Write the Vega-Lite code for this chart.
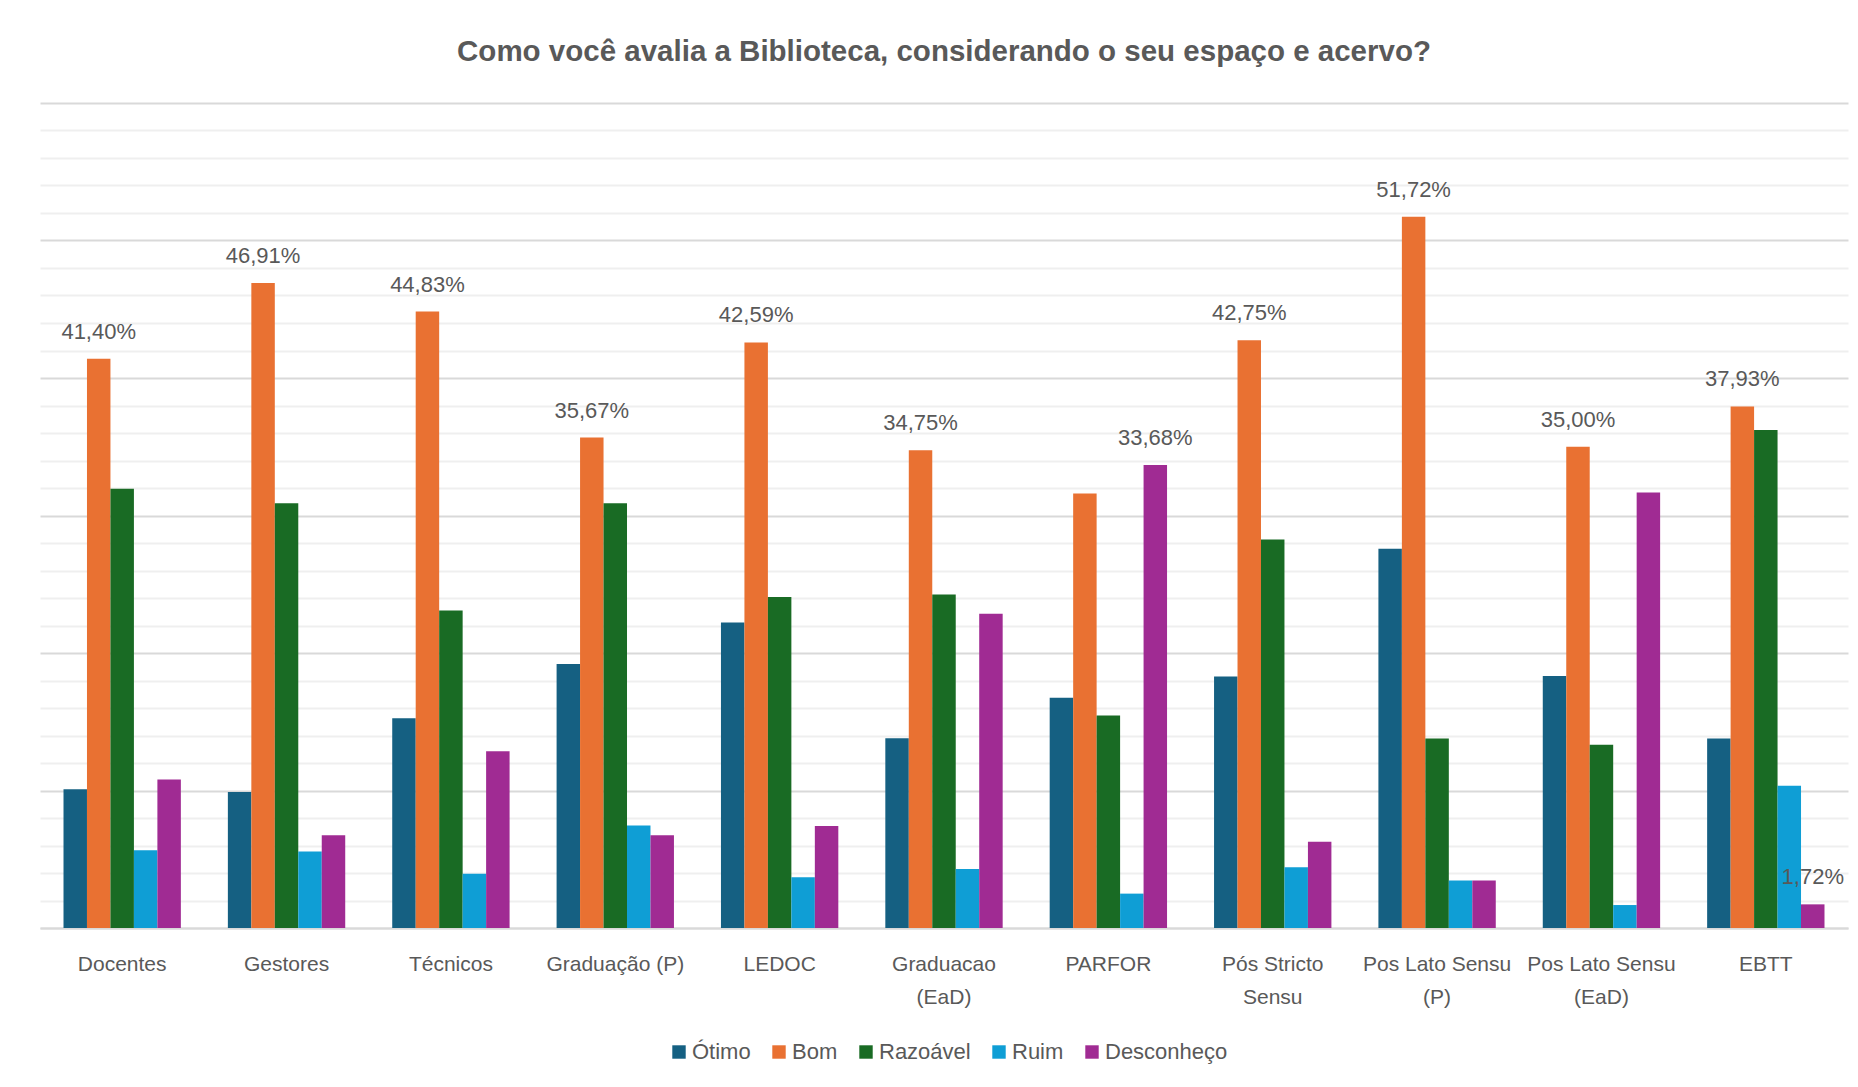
{
  "$schema": "https://vega.github.io/schema/vega-lite/v6.json",
  "width": 1808,
  "height": 825,
  "autosize": {"type": "none"},
  "padding": {"left": 40, "top": 103, "right": 10, "bottom": 159},
  "background": "white",
  "title": {
    "text": "Como você avalia a Biblioteca, considerando o seu espaço e acervo?",
    "font": "Liberation Sans",
    "fontSize": 29.5,
    "fontWeight": "bold",
    "color": "#595959",
    "anchor": "middle",
    "offset": 36
  },
  "data": {
    "values": [
      {"grupo": "Docentes", "avaliacao": "Ótimo", "valor": 10.1, "rotulo": ""},
      {"grupo": "Docentes", "avaliacao": "Bom", "valor": 41.40, "rotulo": "41,40%"},
      {"grupo": "Docentes", "avaliacao": "Razoável", "valor": 31.95, "rotulo": ""},
      {"grupo": "Docentes", "avaliacao": "Ruim", "valor": 5.65, "rotulo": ""},
      {"grupo": "Docentes", "avaliacao": "Desconheço", "valor": 10.8, "rotulo": ""},
      {"grupo": "Gestores", "avaliacao": "Ótimo", "valor": 9.9, "rotulo": ""},
      {"grupo": "Gestores", "avaliacao": "Bom", "valor": 46.91, "rotulo": "46,91%"},
      {"grupo": "Gestores", "avaliacao": "Razoável", "valor": 30.9, "rotulo": ""},
      {"grupo": "Gestores", "avaliacao": "Ruim", "valor": 5.56, "rotulo": ""},
      {"grupo": "Gestores", "avaliacao": "Desconheço", "valor": 6.75, "rotulo": ""},
      {"grupo": "Técnicos", "avaliacao": "Ótimo", "valor": 15.25, "rotulo": ""},
      {"grupo": "Técnicos", "avaliacao": "Bom", "valor": 44.83, "rotulo": "44,83%"},
      {"grupo": "Técnicos", "avaliacao": "Razoável", "valor": 23.1, "rotulo": ""},
      {"grupo": "Técnicos", "avaliacao": "Ruim", "valor": 3.95, "rotulo": ""},
      {"grupo": "Técnicos", "avaliacao": "Desconheço", "valor": 12.85, "rotulo": ""},
      {"grupo": "Graduação (P)", "avaliacao": "Ótimo", "valor": 19.2, "rotulo": ""},
      {"grupo": "Graduação (P)", "avaliacao": "Bom", "valor": 35.67, "rotulo": "35,67%"},
      {"grupo": "Graduação (P)", "avaliacao": "Razoável", "valor": 30.9, "rotulo": ""},
      {"grupo": "Graduação (P)", "avaliacao": "Ruim", "valor": 7.45, "rotulo": ""},
      {"grupo": "Graduação (P)", "avaliacao": "Desconheço", "valor": 6.75, "rotulo": ""},
      {"grupo": "LEDOC", "avaliacao": "Ótimo", "valor": 22.22, "rotulo": ""},
      {"grupo": "LEDOC", "avaliacao": "Bom", "valor": 42.59, "rotulo": "42,59%"},
      {"grupo": "LEDOC", "avaliacao": "Razoável", "valor": 24.07, "rotulo": ""},
      {"grupo": "LEDOC", "avaliacao": "Ruim", "valor": 3.70, "rotulo": ""},
      {"grupo": "LEDOC", "avaliacao": "Desconheço", "valor": 7.41, "rotulo": ""},
      {"grupo": "Graduacao (EaD)", "avaliacao": "Ótimo", "valor": 13.8, "rotulo": ""},
      {"grupo": "Graduacao (EaD)", "avaliacao": "Bom", "valor": 34.75, "rotulo": "34,75%"},
      {"grupo": "Graduacao (EaD)", "avaliacao": "Razoável", "valor": 24.25, "rotulo": ""},
      {"grupo": "Graduacao (EaD)", "avaliacao": "Ruim", "valor": 4.3, "rotulo": ""},
      {"grupo": "Graduacao (EaD)", "avaliacao": "Desconheço", "valor": 22.85, "rotulo": ""},
      {"grupo": "PARFOR", "avaliacao": "Ótimo", "valor": 16.75, "rotulo": ""},
      {"grupo": "PARFOR", "avaliacao": "Bom", "valor": 31.6, "rotulo": ""},
      {"grupo": "PARFOR", "avaliacao": "Razoável", "valor": 15.45, "rotulo": ""},
      {"grupo": "PARFOR", "avaliacao": "Ruim", "valor": 2.5, "rotulo": ""},
      {"grupo": "PARFOR", "avaliacao": "Desconheço", "valor": 33.68, "rotulo": "33,68%"},
      {"grupo": "Pós Stricto Sensu", "avaliacao": "Ótimo", "valor": 18.3, "rotulo": ""},
      {"grupo": "Pós Stricto Sensu", "avaliacao": "Bom", "valor": 42.75, "rotulo": "42,75%"},
      {"grupo": "Pós Stricto Sensu", "avaliacao": "Razoável", "valor": 28.25, "rotulo": ""},
      {"grupo": "Pós Stricto Sensu", "avaliacao": "Ruim", "valor": 4.42, "rotulo": ""},
      {"grupo": "Pós Stricto Sensu", "avaliacao": "Desconheço", "valor": 6.27, "rotulo": ""},
      {"grupo": "Pos Lato Sensu (P)", "avaliacao": "Ótimo", "valor": 27.59, "rotulo": ""},
      {"grupo": "Pos Lato Sensu (P)", "avaliacao": "Bom", "valor": 51.72, "rotulo": "51,72%"},
      {"grupo": "Pos Lato Sensu (P)", "avaliacao": "Razoável", "valor": 13.79, "rotulo": ""},
      {"grupo": "Pos Lato Sensu (P)", "avaliacao": "Ruim", "valor": 3.45, "rotulo": ""},
      {"grupo": "Pos Lato Sensu (P)", "avaliacao": "Desconheço", "valor": 3.45, "rotulo": ""},
      {"grupo": "Pos Lato Sensu (EaD)", "avaliacao": "Ótimo", "valor": 18.33, "rotulo": ""},
      {"grupo": "Pos Lato Sensu (EaD)", "avaliacao": "Bom", "valor": 35.00, "rotulo": "35,00%"},
      {"grupo": "Pos Lato Sensu (EaD)", "avaliacao": "Razoável", "valor": 13.33, "rotulo": ""},
      {"grupo": "Pos Lato Sensu (EaD)", "avaliacao": "Ruim", "valor": 1.67, "rotulo": ""},
      {"grupo": "Pos Lato Sensu (EaD)", "avaliacao": "Desconheço", "valor": 31.67, "rotulo": ""},
      {"grupo": "EBTT", "avaliacao": "Ótimo", "valor": 13.79, "rotulo": ""},
      {"grupo": "EBTT", "avaliacao": "Bom", "valor": 37.93, "rotulo": "37,93%"},
      {"grupo": "EBTT", "avaliacao": "Razoável", "valor": 36.21, "rotulo": ""},
      {"grupo": "EBTT", "avaliacao": "Ruim", "valor": 10.34, "rotulo": ""},
      {"grupo": "EBTT", "avaliacao": "Desconheço", "valor": 1.72, "rotulo": "1,72%"}
    ]
  },
  "encoding": {
    "x": {
      "field": "grupo",
      "type": "nominal",
      "sort": null,
      "scale": {"paddingInner": 0.286, "paddingOuter": 0.143},
      "axis": {
        "title": null,
        "labelAngle": 0,
        "ticks": false,
        "tickSize": 0,
        "domain": true,
        "domainColor": "#D9D9D9",
        "domainWidth": 2,
        "labelPadding": 25,
        "labelFont": "Liberation Sans",
        "labelFontSize": 21,
        "labelColor": "#595959",
        "labelLineHeight": 33,
        "labelBaseline": "top",
        "labelLimit": 0,
        "labelExpr": "length(datum.label) > 13 ? [slice(datum.label, 0, lastindexof(datum.label, ' ')), slice(datum.label, lastindexof(datum.label, ' ') + 1)] : datum.label"
      }
    },
    "xOffset": {
      "field": "avaliacao",
      "type": "nominal",
      "sort": ["Ótimo", "Bom", "Razoável", "Ruim", "Desconheço"]
    },
    "y": {
      "field": "valor",
      "type": "quantitative",
      "scale": {"domain": [0, 60], "nice": false},
      "axis": {
        "title": null,
        "labels": false,
        "ticks": false,
        "domain": false,
        "values": [0, 2, 4, 6, 8, 10, 12, 14, 16, 18, 20, 22, 24, 26, 28, 30, 32, 34, 36, 38, 40, 42, 44, 46, 48, 50, 52, 54, 56, 58, 60],
        "gridColor": {"condition": {"test": "datum.value % 10 === 0", "value": "#D9D9D9"}, "value": "#EFEFEF"},
        "gridWidth": 2
      }
    }
  },
  "layer": [
    {
      "mark": {"type": "bar"},
      "encoding": {
        "color": {
          "field": "avaliacao",
          "type": "nominal",
          "scale": {
            "domain": ["Ótimo", "Bom", "Razoável", "Ruim", "Desconheço"],
            "range": ["#156082", "#E97132", "#196B24", "#0F9ED5", "#A02B93"]
          },
          "legend": {
            "title": null,
            "orient": "none",
            "legendX": 628,
            "legendY": 938,
            "direction": "horizontal",
            "symbolType": "square",
            "symbolSize": 180,
            "symbolStrokeWidth": 0,
            "labelFont": "Liberation Sans",
            "labelFontSize": 22,
            "labelColor": "#595959",
            "labelOffset": 2,
            "columnPadding": 17
          }
        }
      }
    },
    {
      "transform": [{"filter": "datum.rotulo != ''"}],
      "mark": {
        "type": "text",
        "font": "Liberation Sans",
        "fontSize": 22,
        "color": "#595959",
        "baseline": "middle",
        "align": "center",
        "dy": -27
      },
      "encoding": {
        "text": {"field": "rotulo", "type": "nominal"}
      }
    }
  ],
  "config": {
    "view": {"stroke": null}
  }
}
